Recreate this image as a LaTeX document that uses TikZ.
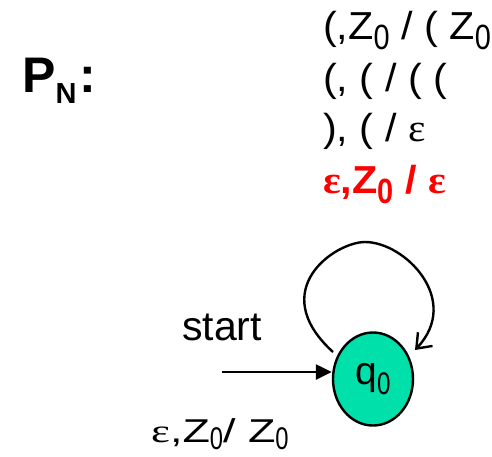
\documentclass[tikz,border=0pt]{standalone}
\usepackage{fontspec}
\usepackage{graphicx}
\setmainfont{Liberation Sans}
\newfontfamily\epsfont{Liberation Serif}
\usetikzlibrary{arrows.meta,shapes.geometric}
\definecolor{stateteal}{HTML}{00E0AA}
\definecolor{pnred}{HTML}{FF0000}
\newcommand{\epsch}{{\epsfont ε}}
\newcommand{\topsub}[1]{\raisebox{-10pt}{\scalebox{0.7}[0.9]{#1}}}
\newcommand{\wide}[1]{\scalebox{1.06}[1]{#1}}
\newcommand{\labwide}[1]{\scalebox{1.36}[1]{#1}}
\newcommand{\labsub}[1]{\raisebox{-7pt}{\scalebox{0.72}[0.95]{#1}}}
\begin{document}
\begin{tikzpicture}[x=1pt,y=-1pt,
  lbl/.style={inner sep=0pt,anchor=base west},
  rule/.style={lbl,font=\fontsize{39}{41}\selectfont},
  state/.style={ellipse,draw,line width=2.4pt,fill=stateteal,minimum width=80pt,minimum height=93pt,inner sep=0pt},
  edge/.style={line width=2.4pt}]
\useasboundingbox (0,0) rectangle (492,456);
\node[lbl,font=\fontsize{50}{52}\selectfont\bfseries] (pn) at (22,92)
  {P\raisebox{-11pt}{\fontsize{29}{29}\selectfont N}\hspace{3pt}:};
\node[rule] (r1) at (323,39) {\wide{(,Z\topsub{0} / ( Z\topsub{0}}};
\node[rule] (r2) at (323,91) {\wide{(, ( / ( (}};
\node[rule] (r3) at (323,141) {\wide{), ( / \epsch}};
\node[rule,font=\fontsize{39}{41}\selectfont\bfseries,text=pnred] (r4) at (323,193) {\wide{\epsch,Z\topsub{0} / \epsch}};
\node[state,font=\fontsize{39}{41}\selectfont] (q0) at (373,379) {q\raisebox{-10pt}{\scalebox{0.62}[0.8]{0}}};
\node[lbl,font=\fontsize{41}{43}\selectfont] (start) at (182,340) {start};
\node[lbl,font=\fontsize{33}{34}\selectfont] (lab) at (151,442)
  {\labwide{\epsch,Z}\labsub{0}\labwide{/ Z}\labsub{0}};
\coordinate (in) at (222,372);
\draw[edge,-{Triangle[length=16pt,width=15pt]}] (in) -- (in -| q0.west);
\coordinate (ls) at (333,352);
\coordinate (le) at (415,350);
\draw[edge,-{Straight Barb[length=13pt,width=20pt,line width=2.4pt]}] (ls) .. controls (265,290) and (335,242) .. (365,242)
  .. controls (405,242) and (462,300) .. (le);
\end{tikzpicture}
\end{document}
